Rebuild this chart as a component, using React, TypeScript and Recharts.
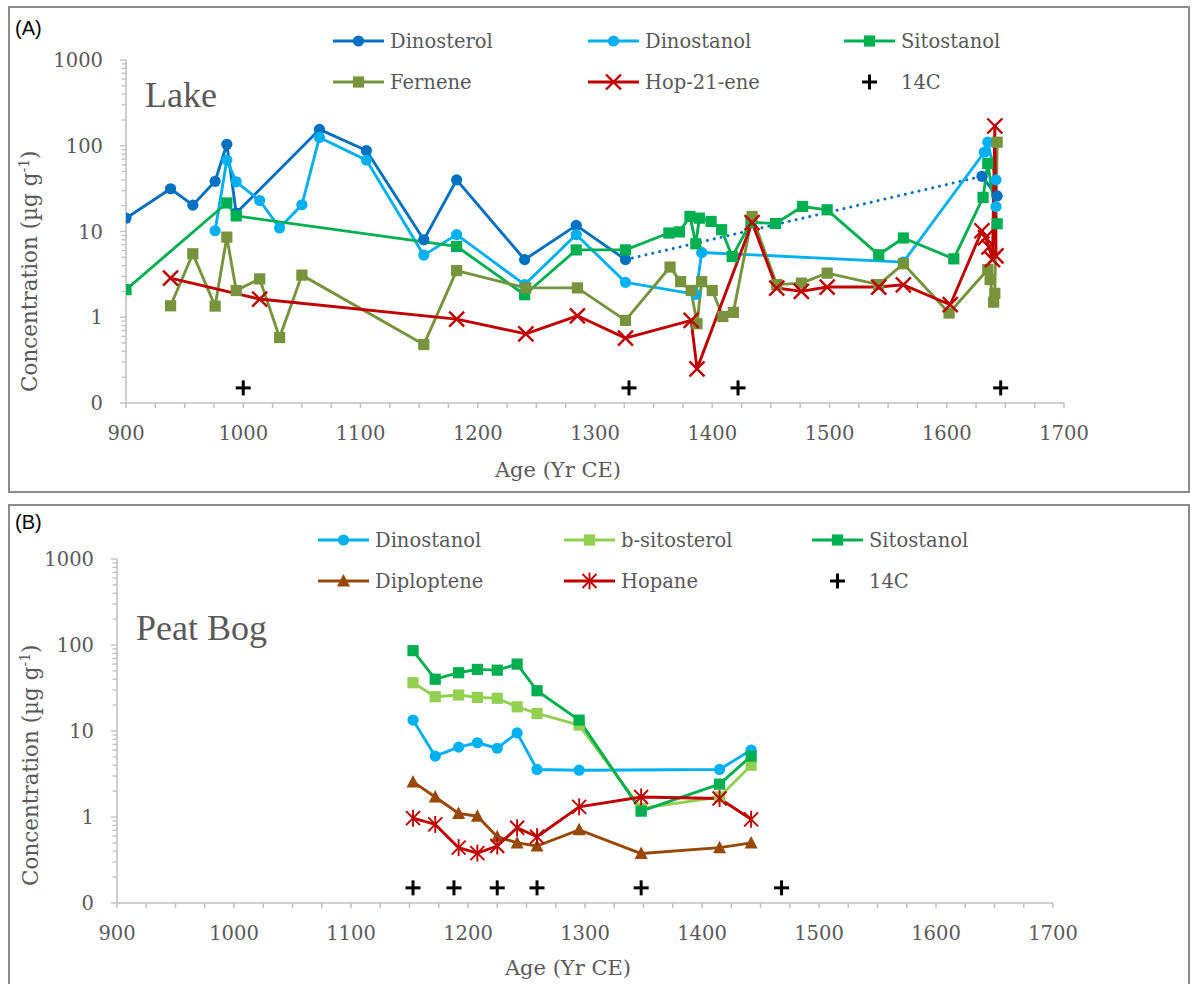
import React from "react";
import { ComposedChart, Line, Scatter, XAxis, YAxis, Legend } from "recharts";

const FONT = "'DejaVu Serif', serif";
const BIG_FONT = "'Liberation Serif', serif";
const TEXT = "#595959";
const AXIS = "#BFBFBF";

// ---------- Panel A : Lake (year CE, µg/g) ----------
const lakeDinosterol: [number, number][] = [
  [900, 14.3], [938, 31.5], [957, 20.3], [976, 38.5], [986, 104], [994, 16.4],
  [1065, 155], [1105, 88], [1154, 8.0], [1182, 40], [1240, 4.7], [1284, 11.8], [1326, 4.7],
];
const lakeDinosterolRecent: [number, number][] = [[1630, 44], [1643, 26]];
const lakeDinosterolGap: [number, number][] = [[1326, 4.7], [1630, 44]];
const lakeDinostanol: [number, number][] = [
  [976, 10.2], [986, 68], [994, 38], [1014, 23], [1031, 11], [1050, 20.5], [1065, 125],
  [1105, 68], [1154, 5.3], [1182, 9.2], [1240, 2.4], [1284, 9.2], [1326, 2.55], [1386, 1.85],
  [1391, 5.7], [1563, 4.4], [1632, 84], [1635, 110], [1642, 40], [1642, 19.5],
];
const lakeSitostanol: [number, number][] = [
  [900, 2.1], [986, 21.5], [994, 15.2], [1182, 6.7], [1240, 1.83], [1284, 6.1], [1326, 6.1],
  [1363, 9.6], [1372, 9.9], [1381, 15], [1386, 7.2], [1389, 14.3], [1399, 13.1], [1408, 10.5],
  [1417, 5.1], [1433, 12.8], [1454, 12.4], [1477, 19.6], [1498, 17.9], [1542, 5.35], [1563, 8.4],
  [1606, 4.8], [1631, 25], [1635, 62], [1643, 12.3],
];
const lakeFernene: [number, number][] = [
  [938, 1.36], [957, 5.5], [976, 1.35], [986, 8.6], [994, 2.05], [1014, 2.8], [1031, 0.58],
  [1050, 3.1], [1154, 0.48], [1182, 3.5], [1241, 2.2], [1285, 2.2], [1326, 0.92], [1364, 3.85],
  [1373, 2.6], [1382, 2.05], [1387, 0.84], [1391, 2.6], [1400, 2.05], [1409, 1.02], [1418, 1.14],
  [1434, 15], [1455, 2.4], [1476, 2.5], [1498, 3.27], [1542, 2.4], [1563, 4.2], [1602, 1.12],
  [1635, 3.6], [1637, 2.75], [1640, 1.5], [1641, 1.9], [1643, 110],
];
const lakeHop21ene: [number, number][] = [
  [938, 2.86], [1014, 1.63], [1182, 0.95], [1241, 0.64], [1285, 1.04], [1326, 0.57], [1382, 0.92],
  [1387, 0.25], [1434, 12.7], [1455, 2.19], [1476, 2.0], [1498, 2.25], [1542, 2.25], [1563, 2.39],
  [1603, 1.4], [1630, 10.2], [1633, 8.5], [1636, 6.6], [1639, 4.7], [1641, 170], [1642, 5.2],
];
const lakeC14Years = [1000, 1329, 1422, 1646];

// ---------- Panel B : Peat Bog ----------
const bogDinostanol: [number, number][] = [
  [1153, 13.4], [1172, 5.1], [1192, 6.5], [1208, 7.3], [1225, 6.3], [1242, 9.5], [1259, 3.57],
  [1295, 3.5], [1415, 3.57], [1442, 6.0],
];
const bogBSitosterol: [number, number][] = [
  [1153, 36.4], [1172, 25], [1192, 26.2], [1208, 24.6], [1225, 24], [1242, 19.1], [1259, 16],
  [1295, 11.7], [1348, 1.26], [1415, 1.71], [1442, 4.0],
];
const bogSitostanol: [number, number][] = [
  [1153, 86], [1172, 40], [1192, 47.6], [1208, 52], [1225, 51], [1242, 60], [1259, 29.4],
  [1295, 13.4], [1348, 1.17], [1415, 2.41], [1442, 5.1],
];
const bogDiploptene: [number, number][] = [
  [1153, 2.56], [1172, 1.71], [1192, 1.1], [1208, 1.02], [1225, 0.59], [1242, 0.5], [1259, 0.46],
  [1295, 0.71], [1348, 0.376], [1415, 0.44], [1442, 0.5],
];
const bogHopane: [number, number][] = [
  [1153, 0.97], [1172, 0.82], [1192, 0.44], [1208, 0.38], [1225, 0.46], [1242, 0.75], [1259, 0.59],
  [1295, 1.31], [1348, 1.71], [1415, 1.64], [1442, 0.94],
];
const bogC14Years = [1153, 1188, 1225, 1259, 1348, 1468];
const c14Level = 0.15;

// ---------- axes ----------
const xMajorTicks = [900, 1000, 1100, 1200, 1300, 1400, 1500, 1600, 1700];
const xMinorStep = 25;
const yMajorTicks = [0.1, 1, 10, 100, 1000];
const yMinorMultipliers = [2, 3, 4, 5, 6, 7, 8, 9];

const xTicks: number[] = [];
for (let v = xMajorTicks[0]; v <= xMajorTicks[xMajorTicks.length - 1]; v += xMinorStep) xTicks.push(v);
const yTicks: number[] = [];
yMajorTicks.forEach((m, i) => {
  yTicks.push(m);
  if (i < yMajorTicks.length - 1) yMinorMultipliers.forEach((k) => yTicks.push(Number((m * k).toPrecision(3))));
});

type Kind = "circle" | "square" | "x" | "star" | "triangle" | "plus";

function marker(kind: Kind, cx: number, cy: number, color: string, key?: string) {
  if (cx == null || cy == null || isNaN(cx) || isNaN(cy)) return <g key={key} />;
  switch (kind) {
    case "circle":
      return <circle key={key} cx={cx} cy={cy} r={5.6} fill={color} />;
    case "square":
      return <rect key={key} x={cx - 5.6} y={cy - 5.6} width={11.2} height={11.2} fill={color} />;
    case "triangle":
      return <polygon key={key} points={`${cx},${cy - 7} ${cx + 6.5},${cy + 5.5} ${cx - 6.5},${cy + 5.5}`} fill={color} />;
    case "x":
      return (
        <g key={key} stroke={color} strokeWidth={2.4}>
          <line x1={cx - 7.5} y1={cy - 7.5} x2={cx + 7.5} y2={cy + 7.5} />
          <line x1={cx - 7.5} y1={cy + 7.5} x2={cx + 7.5} y2={cy - 7.5} />
        </g>
      );
    case "star":
      return (
        <g key={key} stroke={color} strokeWidth={1.9}>
          <line x1={cx - 7} y1={cy - 7} x2={cx + 7} y2={cy + 7} />
          <line x1={cx - 7} y1={cy + 7} x2={cx + 7} y2={cy - 7} />
          <line x1={cx} y1={cy - 8.5} x2={cx} y2={cy + 8.5} />
        </g>
      );
    case "plus":
      return (
        <g key={key} stroke="#000" strokeWidth={3}>
          <line x1={cx - 7.5} y1={cy} x2={cx + 7.5} y2={cy} />
          <line x1={cx} y1={cy - 7.5} x2={cx} y2={cy + 7.5} />
        </g>
      );
  }
  return <g key={key} />;
}

const toPts = (arr: [number, number][]) => arr.map(([x, y]) => ({ x, y }));
const c14Pts = (years: number[]) => years.map((x) => ({ x, y: c14Level }));

type Series = {
  id: string;
  name: string;
  color: string;
  kind: Kind;
  data: [number, number][];
  dotted?: boolean;
};

type LegendItem = { name: string; color: string; kind: Kind };

const XTick = (p: any) => {
  const { x, y, payload } = p;
  const major = payload.value % 100 === 0;
  return (
    <g>
      <line x1={x} x2={x} y1={y} y2={y + 5} stroke={AXIS} strokeWidth={1.5} />
      {major && (
        <text x={x} y={y + 37} textAnchor="middle" fill={TEXT} fontSize={19.5} fontFamily={FONT}>
          {payload.value}
        </text>
      )}
    </g>
  );
};

const YTick = (p: any) => {
  const { x, y, payload } = p;
  const v = payload.value;
  const major = yMajorTicks.some((m) => Math.abs(m - v) < 1e-9);
  return (
    <g>
      <line x1={x - (major ? 6 : 4.5)} x2={x} y1={y} y2={y} stroke={AXIS} strokeWidth={1.3} />
      {major && (
        <text x={x - 23} y={y} dy="0.36em" textAnchor="end" fill={TEXT} fontSize={19.5} fontFamily={FONT}>
          {v < 1 ? "0" : String(v)}
        </text>
      )}
    </g>
  );
};

function LegendSvg({ items, textX, rowY }: { items: LegendItem[]; textX: number[]; rowY: number[] }) {
  return (
    <svg width={1194} height={110} style={{ display: "block" }}>
      {items.map((it, i) => {
        const col = i % 3;
        const row = Math.floor(i / 3);
        const tx = textX[col];
        const y = rowY[row];
        const sx0 = tx - 57;
        const sx1 = tx - 6;
        const cx = (sx0 + sx1) / 2;
        return (
          <g key={it.name}>
            {it.kind !== "plus" && <line x1={sx0} x2={sx1} y1={y} y2={y} stroke={it.color} strokeWidth={2.9} />}
            {marker(it.kind, cx, y, it.color)}
            <text x={tx} y={y} dy="0.36em" fill={TEXT} fontSize={19.5} fontFamily={FONT}>
              {it.name}
            </text>
          </g>
        );
      })}
    </svg>
  );
}

function Panel({
  top, height, margin, series, c14, legendItems, legendTextX, legendRowY,
}: {
  top: number; height: number;
  margin: { top: number; right: number; bottom: number; left: number };
  series: Series[]; c14: number[]; legendItems: LegendItem[]; legendTextX: number[]; legendRowY: number[];
}) {
  return (
    <div style={{ position: "absolute", left: 0, top, width: 1194, height }}>
      <ComposedChart width={1194} height={height} margin={margin}>
        <XAxis
          type="number" dataKey="x" domain={[900, 1700]} ticks={xTicks} interval={0}
          allowDataOverflow tickLine={false} tickSize={0} tickMargin={0} height={30}
          axisLine={{ stroke: AXIS, strokeWidth: 1.5 }} tick={(p: any) => <XTick {...p} />}
        />
        <YAxis
          type="number" dataKey="y" scale="log" domain={[0.1, 1000]} ticks={yTicks} interval={0}
          allowDataOverflow tickLine={false} tickSize={0} tickMargin={0} width={60}
          axisLine={{ stroke: AXIS, strokeWidth: 1.5 }} tick={(p: any) => <YTick {...p} />}
        />
        {series.map((s) => (
          <Line
            key={s.id}
            data={toPts(s.data)}
            dataKey="y"
            name={s.name}
            type="linear"
            stroke={s.color}
            strokeWidth={s.dotted ? 3 : 2.9}
            strokeDasharray={s.dotted ? "0.01 7" : undefined}
            strokeLinecap={s.dotted ? "round" : "butt"}
            strokeLinejoin="round"
            dot={s.dotted ? false : (p: any) => marker(s.kind, p.cx, p.cy, s.color, `${s.id}-${p.index}`)}
            activeDot={false}
            isAnimationActive={false}
            legendType="none"
          />
        ))}
        <Scatter
          data={c14Pts(c14)}
          dataKey="y"
          name="14C"
          isAnimationActive={false}
          legendType="none"
          shape={(p: any) => marker("plus", p.cx, p.cy, "#000")}
        />
        <Legend
          layout="horizontal"
          verticalAlign="middle"
          align="center"
          wrapperStyle={{ top: 0, left: 0, width: 1194, height: 110 }}
          content={() => <LegendSvg items={legendItems} textX={legendTextX} rowY={legendRowY} />}
        />
      </ComposedChart>
    </div>
  );
}

const C = {
  dinosterol: "#0070C0",
  dinostanol: "#00B0F0",
  sitostanol: "#00B050",
  fernene: "#77933C",
  red: "#C00000",
  bsito: "#92D050",
  diploptene: "#984807",
};

const lakeSeries: Series[] = [
  { id: "dster", name: "Dinosterol", color: C.dinosterol, kind: "circle", data: lakeDinosterol },
  { id: "dster2", name: "Dinosterol", color: C.dinosterol, kind: "circle", data: lakeDinosterolRecent },
  { id: "dstergap", name: "Dinosterol", color: C.dinosterol, kind: "circle", data: lakeDinosterolGap, dotted: true },
  { id: "dstan", name: "Dinostanol", color: C.dinostanol, kind: "circle", data: lakeDinostanol },
  { id: "sito", name: "Sitostanol", color: C.sitostanol, kind: "square", data: lakeSitostanol },
  { id: "fern", name: "Fernene", color: C.fernene, kind: "square", data: lakeFernene },
  { id: "hop", name: "Hop-21-ene", color: C.red, kind: "x", data: lakeHop21ene },
];
const lakeLegend: LegendItem[] = [
  { name: "Dinosterol", color: C.dinosterol, kind: "circle" },
  { name: "Dinostanol", color: C.dinostanol, kind: "circle" },
  { name: "Sitostanol", color: C.sitostanol, kind: "square" },
  { name: "Fernene", color: C.fernene, kind: "square" },
  { name: "Hop-21-ene", color: C.red, kind: "x" },
  { name: "14C", color: "#000", kind: "plus" },
];

const bogSeries: Series[] = [
  { id: "dstan", name: "Dinostanol", color: C.dinostanol, kind: "circle", data: bogDinostanol },
  { id: "bsito", name: "b-sitosterol", color: C.bsito, kind: "square", data: bogBSitosterol },
  { id: "sito", name: "Sitostanol", color: C.sitostanol, kind: "square", data: bogSitostanol },
  { id: "dipl", name: "Diploptene", color: C.diploptene, kind: "triangle", data: bogDiploptene },
  { id: "hopane", name: "Hopane", color: C.red, kind: "star", data: bogHopane },
];
const bogLegend: LegendItem[] = [
  { name: "Dinostanol", color: C.dinostanol, kind: "circle" },
  { name: "b-sitosterol", color: C.bsito, kind: "square" },
  { name: "Sitostanol", color: C.sitostanol, kind: "square" },
  { name: "Diploptene", color: C.diploptene, kind: "triangle" },
  { name: "Hopane", color: C.red, kind: "star" },
  { name: "14C", color: "#000", kind: "plus" },
];

const YTitle = ({ x, y }: { x: number; y: number }) => (
  <text transform={`translate(${x},${y}) rotate(-90)`} fill={TEXT} fontSize={21.5} fontFamily={FONT}>
    Concentration (µg g
    <tspan dy={-8} fontSize={14}>-1</tspan>
    <tspan dy={8}>)</tspan>
  </text>
);

export default function App() {
  return (
    <div style={{ position: "absolute", left: 0, top: 0, width: 1194, height: 984, overflow: "hidden", background: "#fff" }}>
      <div style={{ position: "absolute", left: 8, top: 6, width: 1182, height: 487, border: "2px solid #8c8c8c", boxSizing: "border-box" }} />
      <div style={{ position: "absolute", left: 8, top: 504, width: 1182, height: 480, border: "2px solid #8c8c8c", borderBottom: "none", boxSizing: "border-box" }} />
      <Panel
        top={0}
        height={495}
        margin={{ top: 60, right: 130, bottom: 62, left: 66 }}
        series={lakeSeries}
        c14={lakeC14Years}
        legendItems={lakeLegend}
        legendTextX={[390, 645, 901]}
        legendRowY={[41, 82]}
      />
      <Panel
        top={495}
        height={489}
        margin={{ top: 64, right: 141, bottom: 51, left: 57 }}
        series={bogSeries}
        c14={bogC14Years}
        legendItems={bogLegend}
        legendTextX={[375, 621, 869]}
        legendRowY={[45, 86]}
      />
      <svg width={1194} height={984} style={{ position: "absolute", left: 0, top: 0, pointerEvents: "none" }}>
        <text x={15} y={35} fontSize={20} fontFamily="'Liberation Sans', sans-serif" fill="#000">(A)</text>
        <text x={145} y={107} fontSize={36} fontFamily={BIG_FONT} fill={TEXT}>Lake</text>
        <YTitle x={37} y={392} />
        <text x={558} y={477} textAnchor="middle" fontSize={21} fontFamily={FONT} fill={TEXT}>Age (Yr CE)</text>

        <text x={15} y={529} fontSize={20} fontFamily="'Liberation Sans', sans-serif" fill="#000">(B)</text>
        <text x={136} y={640} fontSize={36} fontFamily={BIG_FONT} fill={TEXT}>Peat Bog</text>
        <YTitle x={38} y={886} />
        <text x={568} y={975} textAnchor="middle" fontSize={21} fontFamily={FONT} fill={TEXT}>Age (Yr CE)</text>
      </svg>
    </div>
  );
}
